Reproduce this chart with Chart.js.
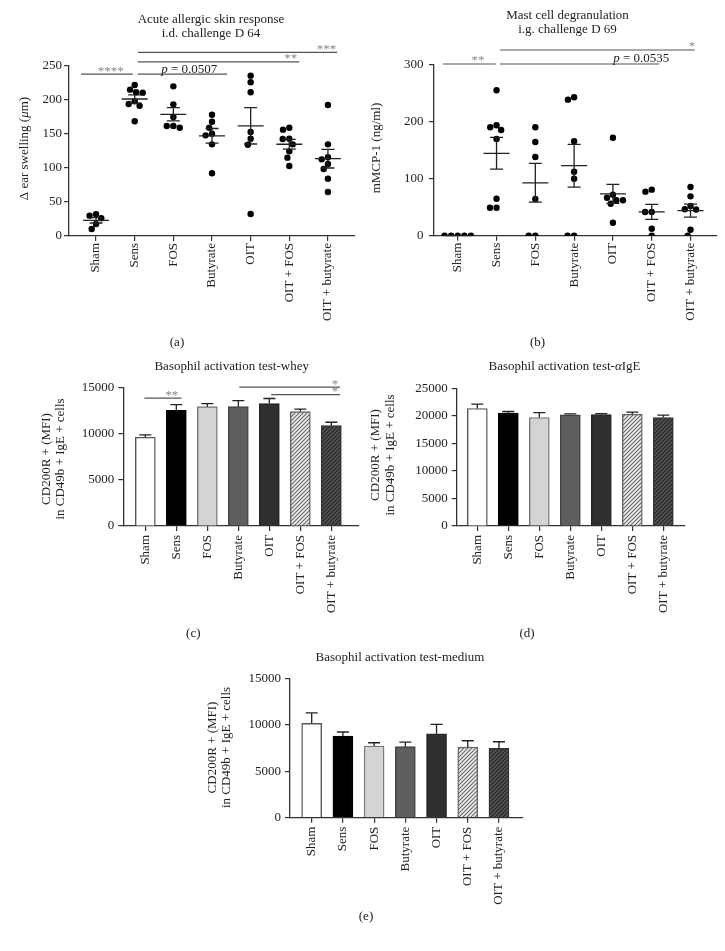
<!DOCTYPE html>
<html>
<head>
<meta charset="utf-8">
<title>Allergy readouts</title>
<script src="https://cdn.jsdelivr.net/npm/chart.js@4.4.1/dist/chart.umd.min.js"></script>
<style>
  body { margin: 0; background: #fff; }
  #page { position: relative; width: 725px; height: 951px; }
  #page canvas { position: absolute; left: 0; top: 0; }
</style>
</head>
<body>
<div id="page">
  <canvas id="panelA" width="725" height="951"></canvas>
  <canvas id="panelB" width="725" height="951"></canvas>
  <canvas id="panelC" width="725" height="951"></canvas>
  <canvas id="panelD" width="725" height="951"></canvas>
  <canvas id="panelE" width="725" height="951"></canvas>
</div>
<script>
// groups on every x axis
const groups = ['Sham', 'Sens', 'FOS', 'Butyrate', 'OIT', 'OIT + FOS', 'OIT + butyrate'];

// (a) ear swelling per mouse (µm)
const swellSham = [29.9, 26.0, 31.9, 10.3, 17.6];
const swellSens = [215.2, 210.8, 211.3, 222.1, 194.1, 191.6, 198.1, 168.7];
const swellFos = [220.1, 193.6, 175.0, 161.8, 159.3, 161.8];
const swellButyrate = [178.4, 168.1, 159.3, 148.0, 150.5, 134.8, 92.2];
const swellOit = [235.8, 226.0, 211.3, 152.9, 143.1, 134.3, 32.4];
const swellOitFos = [159.3, 156.4, 143.1, 134.8, 142.6, 124.5, 115.2, 102.9];
const swellOitButyrate = [192.6, 134.8, 115.7, 112.7, 105.9, 98.5, 84.3, 64.7];
const swellMean = [23.1, 201.5, 179.0, 147.3, 162.0, 134.9, 113.7];
const swellSem = [4.0, 6.0, 9.8, 10.8, 26.7, 7.2, 13.7];

// (b) mMCP-1 per mouse (ng/ml)
const mcpSham = [0, 0, 0, 0, 0];
const mcpSens = [255.5, 190.5, 185.7, 194.0, 170.0, 65.0, 49.2, 49.2];
const mcpFos = [190.5, 164.7, 138.3, 64.5, 0, 0];
const mcpButyrate = [243.2, 239.1, 165.9, 112.5, 100.2, 0, 0];
const mcpOit = [172.2, 66.8, 62.2, 72.1, 56.2, 62.2, 22.8];
const mcpOitFos = [77.4, 80.9, 41.7, 41.7, 12.3, 0];
const mcpOitButyrate = [85.6, 69.2, 46.4, 46.0, 52.2, 10.5, 0];
const mcpMean = [0, 144.8, 93.0, 123.0, 73.4, 42.0, 44.1];
const mcpSem = [0, 27.9, 34.0, 37.5, 16.7, 13.2, 11.4];

// (c)-(e) CD200R+ MFI, mean and SEM
const wheyMean = [9600, 12520, 12910, 12910, 13240, 12370, 10850];
const wheySem = [250, 600, 320, 650, 550, 260, 370];
const igeMean = [21330, 20490, 19690, 20180, 20240, 20300, 19690];
const igeSem = [800, 300, 900, 180, 180, 370, 430];
const mediumMean = [10150, 8790, 7710, 7640, 9030, 7600, 7460];
const mediumSem = [1140, 430, 355, 500, 1010, 680, 710];

// significance brackets: x in group units, y in data units
const sigSwell = [
  { x1: 0.61, x2: 1.95, y: 238, label: '****', lx: 1.38 },
  { x1: 2.08, x2: 4.39, y: 238, label: '_p_ = 0.0507', lx: 3.41 },
  { x1: 2.08, x2: 6.26, y: 256, label: '**', lx: 6.04 },
  { x1: 2.08, x2: 7.24, y: 270, label: '***', lx: 6.96 }
];
const sigMcp = [
  { x1: 0.62, x2: 1.98, y: 301.8, label: '**', lx: 1.52 },
  { x1: 2.08, x2: 6.19, y: 301.8, label: '_p_ = 0.0535', lx: 5.73 },
  { x1: 2.09, x2: 7.11, y: 326.4, label: '*', lx: 7.04 }
];
const sigWhey = [
  { x1: 0.97, x2: 2.17, y: 13820, label: '**', lx: 1.85 },
  { x1: 4.03, x2: 7.28, y: 15010, label: '*', lx: 7.12 },
  { x1: 5.06, x2: 7.28, y: 14210, label: '*', lx: 7.12 }
];

const FONT = "'Liberation Serif', 'Times New Roman', serif";
Chart.defaults.font.family = FONT;
Chart.defaults.font.size = 13;
Chart.defaults.color = '#222';

const Y_W = 45;   // fixed width of y axis box
const X_H = 90;   // fixed height of x axis box

// '_x_' marks italic parts
function drawRich(ctx, str, x, y, size) {
  const segs = str.split('_').map((t, k) => ({ t, font: (k % 2 ? 'italic ' : '') + size + 'px ' + FONT }));
  let w = 0;
  segs.forEach(s => { ctx.font = s.font; s.w = ctx.measureText(s.t).width; w += s.w; });
  let cx = x - w / 2;
  ctx.textAlign = 'left';
  segs.forEach(s => { ctx.font = s.font; ctx.fillText(s.t, cx, y); cx += s.w; });
}

// simple beeswarm: offsets in group units
function swarm(values, pxPerY, pxPerX, diam) {
  const order = values.map((v, i) => i).sort((a, b) => values[b] - values[a]);
  const placed = [];
  const offs = new Array(values.length).fill(0);
  order.forEach(i => {
    const y = values[i] * pxPerY;
    const blocked = [];
    placed.forEach(p => {
      const dy = Math.abs(p.y - y);
      if (dy < diam) {
        const w = Math.sqrt(diam * diam - dy * dy);
        blocked.push([p.x - w, p.x + w]);
      }
    });
    const cands = [0];
    blocked.forEach(b => cands.push(b[0], b[1]));
    cands.sort((a, b) => Math.abs(a) - Math.abs(b));
    const x = cands.find(c => blocked.every(b => c <= b[0] + 1e-6 || c >= b[1] - 1e-6));
    placed.push({ x, y });
    offs[i] = x / pxPerX;
  });
  return offs;
}

function hatch(bg, fg) {
  const c = document.createElement('canvas');
  c.width = 4; c.height = 4;
  const g = c.getContext('2d');
  g.fillStyle = bg;
  g.fillRect(0, 0, 4, 4);
  g.strokeStyle = fg;
  g.lineWidth = 1.1;
  g.beginPath();
  g.moveTo(0, 4); g.lineTo(4, 0);
  g.moveTo(-1, 1); g.lineTo(1, -1);
  g.moveTo(3, 5); g.lineTo(5, 3);
  g.stroke();
  return g.createPattern(c, 'repeat');
}

// titles, axis titles, brackets, mean/SEM and error bars
const decor = {
  id: 'decor',
  afterDraw(chart, args, o) {
    const ctx = chart.ctx, xs = chart.scales.x, ys = chart.scales.y;
    ctx.save();
    ctx.strokeStyle = '#222';
    ctx.lineWidth = 1.3;

    if (o.mean) {
      o.mean.forEach((m, i) => {
        const cx = xs.getPixelForValue(i + 1);
        const ym = ys.getPixelForValue(m);
        const yh = ys.getPixelForValue(m + o.sem[i]);
        const yl = ys.getPixelForValue(m - o.sem[i]);
        ctx.beginPath();
        ctx.moveTo(cx - 13, ym); ctx.lineTo(cx + 13, ym);
        ctx.moveTo(cx, yh); ctx.lineTo(cx, yl);
        ctx.moveTo(cx - 6.5, yh); ctx.lineTo(cx + 6.5, yh);
        ctx.moveTo(cx - 6.5, yl); ctx.lineTo(cx + 6.5, yl);
        ctx.stroke();
      });
    }
    if (o.err) {
      o.bars.forEach((m, i) => {
        const cx = xs.getPixelForValue(i + 1);
        const yt = ys.getPixelForValue(m);
        const yh = ys.getPixelForValue(m + o.err[i]);
        ctx.beginPath();
        ctx.moveTo(cx, yt); ctx.lineTo(cx, yh);
        ctx.moveTo(cx - 6, yh); ctx.lineTo(cx + 6, yh);
        ctx.stroke();
      });
    }

    (o.sig || []).forEach(b => {
      const x1 = xs.getPixelForValue(b.x1), x2 = xs.getPixelForValue(b.x2);
      const y = ys.getPixelForValue(b.y);
      ctx.strokeStyle = '#555';
      ctx.lineWidth = 1.2;
      ctx.beginPath();
      ctx.moveTo(x1, y); ctx.lineTo(x2, y);
      ctx.stroke();
      const lx = xs.getPixelForValue(b.lx);
      ctx.textBaseline = 'alphabetic';
      if (b.label[0] === '*') {
        ctx.fillStyle = '#888';
        drawRich(ctx, b.label, lx, y + 0.5, 13);
      } else {
        ctx.fillStyle = '#222';
        drawRich(ctx, b.label, lx, y - 1.5, 13);
      }
    });

    ctx.fillStyle = '#222';
    ctx.textBaseline = 'middle';
    o.title.forEach((t, i) => drawRich(ctx, t, o.titleX, o.titleY + i * 14.3, 13));
    o.yTitle.forEach((t, i) => {
      ctx.save();
      ctx.translate(o.yTitleX + i * 14.3, o.yTitleY);
      ctx.rotate(-Math.PI / 2);
      drawRich(ctx, t, 0, 0, 13);
      ctx.restore();
    });
    drawRich(ctx, o.letter, o.letterX, o.letterY, 13);
    ctx.restore();
  }
};

function axes(box, xMin, xMax, yMax, step, yPad, xPad) {
  return {
    x: {
      type: 'linear', min: xMin, max: xMax, offset: false,
      afterBuildTicks: s => { s.ticks = groups.map((g, i) => ({ value: i + 1 })); },
      afterFit: s => { s.height = X_H; },
      ticks: { autoSkip: false, minRotation: 90, maxRotation: 90, padding: xPad,
               callback: v => groups[v - 1] },
      grid: { drawOnChartArea: false, drawTicks: true, tickLength: 5, offset: false, color: '#333', lineWidth: 1.2 },
      border: { color: '#333', width: 1.3 }
    },
    y: {
      min: 0, max: yMax,
      afterFit: s => { s.width = Y_W; },
      ticks: { stepSize: step, padding: yPad, callback: v => String(v) },
      grid: { drawOnChartArea: false, drawTicks: true, tickLength: 5, color: '#333', lineWidth: 1.2 },
      border: { color: '#333', width: 1.3 }
    }
  };
}

function pad(box) {
  return { left: box.left - Y_W, top: box.top, right: 725 - box.right, bottom: 951 - box.bottom - X_H };
}

function dotPlot(id, box, xMin, xMax, yMax, step, yPad, points, deco) {
  const pxX = (box.right - box.left) / (xMax - xMin);
  const pxY = (box.bottom - box.top) / yMax;
  const pts = [];
  points.forEach((vals, g) => {
    const offs = swarm(vals, pxY, pxX, 6.6);
    vals.forEach((v, k) => pts.push({ x: g + 1 + offs[k], y: v }));
  });
  new Chart(document.getElementById(id), {
    type: 'scatter',
    data: { datasets: [{ data: pts, pointRadius: 3.2, pointHoverRadius: 3.2, backgroundColor: '#000', borderWidth: 0 }] },
    options: {
      responsive: false, animation: false, events: [],
      layout: { padding: pad(box) },
      plugins: { legend: { display: false }, tooltip: { enabled: false }, decor: deco },
      scales: axes(box, xMin, xMax, yMax, step, yPad, 2)
    },
    plugins: [decor]
  });
}

const barFill = ['#ffffff', '#000000', '#d4d4d4', '#5f5f5f', '#303030', hatch('#eeeeee', '#666666'), hatch('#555555', '#222222')];
const barEdge = ['#555555', '#000000', '#777777', '#444444', '#222222', '#666666', '#333333'];

function barPlot(id, box, xMin, xMax, yMax, means, sems, deco) {
  new Chart(document.getElementById(id), {
    type: 'bar',
    data: { datasets: [{
      data: means.map((m, i) => ({ x: i + 1, y: m })),
      backgroundColor: barFill, borderColor: barEdge, borderWidth: 1.4, barThickness: 20
    }] },
    options: {
      responsive: false, animation: false, events: [],
      layout: { padding: pad(box) },
      plugins: { legend: { display: false }, tooltip: { enabled: false },
                 decor: Object.assign({ bars: means, err: sems }, deco) },
      scales: axes(box, xMin, xMax, yMax, 5000, 4, 4)
    },
    plugins: [decor]
  });
}

dotPlot('panelA', { left: 69, top: 66, right: 355, bottom: 236 }, 0.30, 7.70, 250, 50, 2,
  [swellSham, swellSens, swellFos, swellButyrate, swellOit, swellOitFos, swellOitButyrate],
  { mean: swellMean, sem: swellSem, sig: sigSwell,
    title: ['Acute allergic skin response', 'i.d. challenge D 64'], titleX: 211, titleY: 19.5,
    yTitle: ['Δ ear swelling (_μ_m)'], yTitleX: 25, yTitleY: 148.5,
    letter: '(a)', letterX: 177, letterY: 343 });

dotPlot('panelB', { left: 434, top: 65, right: 716.5, bottom: 235.7 }, 0.388, 7.67, 300, 100, 5.5,
  [mcpSham, mcpSens, mcpFos, mcpButyrate, mcpOit, mcpOitFos, mcpOitButyrate],
  { mean: mcpMean, sem: mcpSem, sig: sigMcp,
    title: ['Mast cell degranulation', 'i.g. challenge D 69'], titleX: 567.5, titleY: 15.5,
    yTitle: ['mMCP-1 (ng/ml)'], yTitleX: 376.7, yTitleY: 148,
    letter: '(b)', letterX: 537.5, letterY: 343 });

barPlot('panelC', { left: 123.3, top: 387.3, right: 358.3, bottom: 526 }, 0.29, 7.87, 15000, wheyMean, wheySem,
  { sig: sigWhey,
    title: ['Basophil activation test-whey'], titleX: 231.7, titleY: 366.7,
    yTitle: ['CD200R + (MFI)', 'in CD49b + IgE + cells'], yTitleX: 46.7, yTitleY: 459,
    letter: '(c)', letterX: 193.3, letterY: 634 });

barPlot('panelD', { left: 456.7, top: 388.3, right: 685, bottom: 526 }, 0.335, 7.70, 25000, igeMean, igeSem,
  { title: ['Basophil activation test-_α_IgE'], titleX: 564.5, titleY: 366.7,
    yTitle: ['CD200R + (MFI)', 'in CD49b + IgE + cells'], yTitleX: 376, yTitleY: 455,
    letter: '(d)', letterX: 527, letterY: 634 });

barPlot('panelE', { left: 290, top: 678.3, right: 523, bottom: 817.7 }, 0.305, 7.77, 15000, mediumMean, mediumSem,
  { title: ['Basophil activation test-medium'], titleX: 400, titleY: 657.3,
    yTitle: ['CD200R + (MFI)', 'in CD49b + IgE + cells'], yTitleX: 212.7, yTitleY: 747.5,
    letter: '(e)', letterX: 366, letterY: 916.7 });
</script>
</body>
</html>
